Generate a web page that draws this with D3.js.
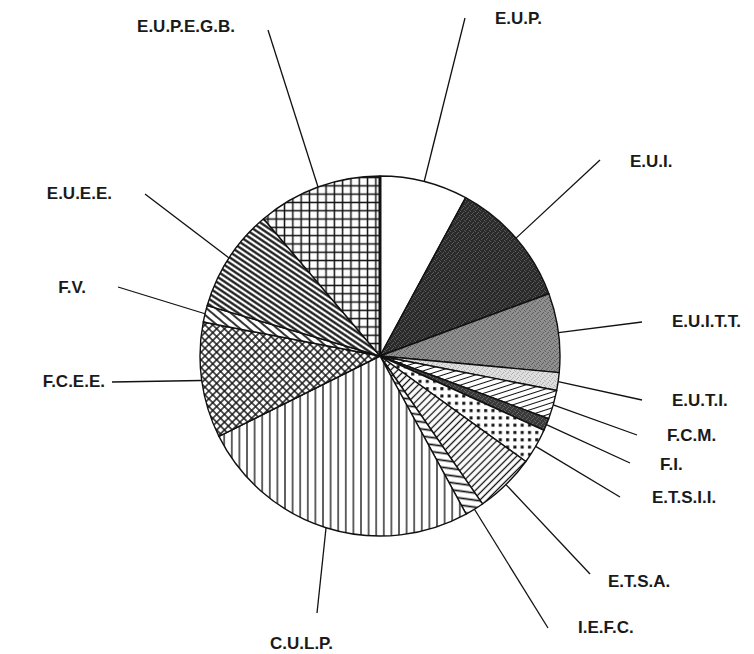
<!DOCTYPE html>
<html>
<head>
<meta charset="utf-8">
<script src="https://cdn.jsdelivr.net/npm/d3@7/dist/d3.min.js"></script>
<style>
body { margin: 0; background: #fff; }
svg { display: block; }
.lbl { font-family: "Liberation Sans", Arial, sans-serif; font-size: 17px; font-weight: bold; fill: #1a1a1a; }
.leader { stroke: #111; stroke-width: 1.3; fill: none; }
</style>
</head>
<body>
<script>
// slices, clockwise from 12 o'clock (percent)
var categories = ['E.U.P.', 'E.U.I.', 'E.U.I.T.T.', 'E.U.T.I.', 'F.C.M.', 'F.I.', 'E.T.S.I.I.',
    'E.T.S.A.', 'I.E.F.C.', 'C.U.L.P.', 'F.C.E.E.', 'F.V.', 'E.U.E.E.', 'E.U.P.E.G.B.']
var values = [7.9, 11.5, 7.1, 1.6, 2.6, 1.1, 3.2, 5.4, 1.7, 25.6, 10.4, 1.5, 9.3, 11.2]
var fills = ['white', 'url(#dark)', 'url(#medium)', 'url(#light)', 'url(#fcm)', 'url(#dark2)', 'url(#dots)',
    'url(#etsa)', 'url(#iefc)', 'url(#vert)', 'url(#diamond)', 'url(#fv)', 'url(#dense)', 'url(#grid)']

// label layout: text x, text baseline, anchor, outer end of leader line
var labelPos = [
    [495, 24, 'start', 465, 18],
    [630, 167, 'start', 600, 160],
    [672, 327, 'start', 642, 322],
    [672, 406, 'start', 642, 400],
    [667, 441, 'start', 637, 435],
    [660, 470, 'start', 630, 463],
    [652, 503, 'start', 620, 497],
    [608, 587, 'start', 590, 574],
    [578, 633, 'start', 548, 628],
    [270, 649, 'start', 317, 613],
    [105, 387, 'end', 112, 382],
    [86, 293, 'end', 118, 287],
    [112, 199, 'end', 145, 194],
    [235, 32, 'end', 268, 30]
]

var width = 754, height = 654
var cx = 380, cy = 356
var radius = 180

var svg = d3.select('body').append('svg')
    .attr('width', width)
    .attr('height', height)

var defs = svg.append('defs')

// line hatch: vertical line in a tile, then rotated
function hatch(id, step, sw, angle, cross){
    var p = defs.append('pattern')
        .attr('id', id)
        .attr('patternUnits', 'userSpaceOnUse')
        .attr('width', step)
        .attr('height', step)
        .attr('patternTransform', 'rotate(' + angle + ')')
    p.append('rect').attr('width', step).attr('height', step).attr('fill', 'white')
    p.append('line')
        .attr('x1', step / 2).attr('y1', 0).attr('x2', step / 2).attr('y2', step)
        .attr('stroke', '#111').attr('stroke-width', sw)
    if(cross){
        p.append('line')
            .attr('x1', 0).attr('y1', step / 2).attr('x2', step).attr('y2', step / 2)
            .attr('stroke', '#111').attr('stroke-width', sw)
    }
}

// speckled grey: tinted tile with single pixels of a nearby shade
function stipple(id, size, cells, bg, fg){
    var p = defs.append('pattern')
        .attr('id', id)
        .attr('patternUnits', 'userSpaceOnUse')
        .attr('width', size)
        .attr('height', size)
    p.append('rect').attr('width', size).attr('height', size).attr('fill', bg)
    cells.forEach(function(c){
        p.append('rect').attr('x', c[0]).attr('y', c[1]).attr('width', 1).attr('height', 1)
            .attr('fill', fg)
    })
}

var scatter = [[0, 0], [3, 1], [1, 3], [4, 4], [2, 2]]
stipple('dark', 5, scatter, '#2b2b2b', '#5a5a5a')
stipple('dark2', 5, scatter, '#3a3a3a', '#666')
stipple('medium', 5, scatter, '#8e8e8e', '#5e5e5e')
stipple('light', 5, scatter, '#dedede', '#b0b0b0')

var dots = defs.append('pattern')
    .attr('id', 'dots')
    .attr('patternUnits', 'userSpaceOnUse')
    .attr('width', 7.3)
    .attr('height', 7.3)
dots.append('rect').attr('width', 7.3).attr('height', 7.3).attr('fill', 'white')
dots.append('rect').attr('x', 2).attr('y', 2).attr('width', 3).attr('height', 3).attr('fill', '#111')

hatch('fcm', 5, 1, 72)
hatch('etsa', 5, 1.3, 45)
hatch('iefc', 7, 1.7, 98)
hatch('vert', 7.6, 1.3, 0)
hatch('diamond', 5.5, 1.4, 45, true)
hatch('fv', 6, 1.7, -50)
hatch('dense', 4.6, 2.2, -56)
hatch('grid', 8.3, 1.5, 0, true)

var pie = d3.pie().sort(null).value(function(d){ return d })
var slices = pie(values)

var arc = d3.arc().innerRadius(0).outerRadius(radius)
var edge = d3.arc().innerRadius(radius).outerRadius(radius)

var chart = svg.append('g')
    .attr('transform', 'translate(' + cx + ',' + cy + ')')

chart.selectAll('path.slice')
    .data(slices)
    .enter()
    .append('path')
    .attr('class', 'slice')
    .attr('d', arc)
    .attr('fill', function(d, i){ return fills[i] })
    .attr('stroke', '#111')
    .attr('stroke-width', 1.4)
    .attr('stroke-linejoin', 'round')

// heavy boundary at 12 o'clock
chart.append('line')
    .attr('x1', 0).attr('y1', 0)
    .attr('x2', 0).attr('y2', -radius)
    .attr('stroke', '#111')
    .attr('stroke-width', 3)

// leader lines from slice middle on the rim to the label
var labels = svg.append('g')

labels.selectAll('line.leader')
    .data(slices)
    .enter()
    .append('line')
    .attr('class', 'leader')
    .attr('x1', function(d){ return cx + edge.centroid(d)[0] })
    .attr('y1', function(d){ return cy + edge.centroid(d)[1] })
    .attr('x2', function(d, i){ return labelPos[i][3] })
    .attr('y2', function(d, i){ return labelPos[i][4] })

labels.selectAll('text.lbl')
    .data(categories)
    .enter()
    .append('text')
    .attr('class', 'lbl')
    .attr('x', function(d, i){ return labelPos[i][0] })
    .attr('y', function(d, i){ return labelPos[i][1] })
    .attr('text-anchor', function(d, i){ return labelPos[i][2] })
    .text(function(d){ return d })
</script>
</body>
</html>
